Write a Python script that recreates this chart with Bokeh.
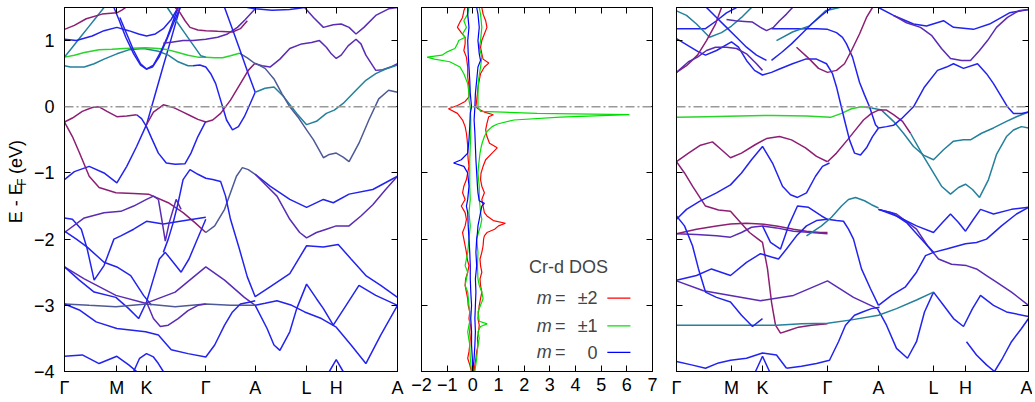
import math
from bokeh.plotting import figure
from bokeh.layouts import row
from bokeh.models import Range1d, FixedTicker, LinearAxis, Span, Label
from bokeh.core.properties import value
from bokeh.embed import file_html
from bokeh.resources import INLINE

# ---------------- axes data ----------------
E_MIN, E_MAX = -4.0, 1.5
energy_ticks = [-4, -3, -2, -1, 0, 1]
kpath_labels = ["Γ", "M", "K", "Γ", "A", "L", "H", "A"]
left_kpos = [0, 53, 83, 143, 193, 245, 275, 337]
right_kpos = [0, 55, 86, 151, 202, 257, 289, 352]
dos_ticks = [-2, -1, 0, 1, 2, 3, 4, 5, 6, 7]
ylabel_parts = ["E - E", "F", "(eV)"]

# colours of the orbital projections
BL = "#2323f0"   # m = 0 dominated
PU = "#8c1f74"   # m = +-2 / mixed
VI = "#5a2bb4"
TE = "#24809c"
SL = "#4d5a96"
GR = "#2ad52a"   # m = +-1

# ---------------- left band structure (k, E) ----------------
L01 = [(0,-0.23),(8,-0.17),(18,-0.07),(28,-0.01),(35,0.0),(43,-0.07),(53,-0.15),(63,-0.14),(73,-0.12)]
L02 = [(73,-0.12),(78,-0.18),(83,-0.3),(88,-0.47),(95,-0.7),(103,-0.85),(112,-0.87),(122,-0.86),(128,-0.7),(135,-0.45),(143,-0.22)]
L03 = [(0,-1.1),(10,-0.98),(25,-0.9),(40,-1.0),(53,-1.15),(63,-0.9),(73,-0.6),(83,-0.27),(92,0.2),(100,0.62),(108,1.03),(117,1.5)]
L04 = [(83,-0.27),(90,-0.08),(100,0.03),(110,-0.01),(120,-0.08),(128,-0.14),(135,-0.19),(143,-0.23)]
L05 = [(143,-0.23),(150,-0.2),(158,-0.1),(168,0.1),(178,0.35),(186,0.55),(193,0.66)]
L06 = [(130,0.62),(137,0.63),(143,0.6),(148,0.5),(153,0.35),(157,0.15),(160,0.0),(164,-0.2),(170,-0.35),(176,-0.3),(182,-0.15),(188,0.05),(193,0.22)]
L07 = [(0,0.62),(6,0.6),(12,0.6),(20,0.6),(30,0.65),(40,0.72),(53,0.8),(65,0.86),(80,0.88),(95,0.84),(105,0.78),(115,0.68),(125,0.62),(130,0.62)]
L08 = [(0,0.75),(10,0.78),(20,0.82),(35,0.86),(48,0.87),(60,0.88),(82,0.89),(95,0.88),(105,0.86),(115,0.82),(125,0.78),(135,0.75),(143,0.75),(152,0.74),(160,0.74),(168,0.77),(177,0.81)]
L09 = [(177,0.81),(185,0.74),(193,0.65)]
L10 = [(0,0.75),(8,0.9),(16,1.05),(24,1.2),(32,1.35),(40,1.5)]
L11 = [(104,1.5),(113,1.3),(120,1.15),(128,0.98),(138,0.77),(143,0.75)]
L12 = [(50,1.5),(55,1.32),(62,1.05),(70,0.8),(77,0.63),(83,0.57),(90,0.63),(97,0.82),(104,1.05),(110,1.3),(115,1.5)]
L13 = [(56,1.35),(63,1.1),(70,0.85),(77,0.65),(83,0.57),(89,0.6),(96,0.76),(103,1.0),(110,1.25),(117,1.5)]
L14 = [(0,1.02),(12,1.0),(28,1.07),(40,1.15),(53,1.2),(65,1.15),(75,1.1),(83,1.07),(92,1.1),(100,1.18),(108,1.32),(115,1.5)]
L15 = [(100,0.96),(110,0.98),(120,1.0),(130,1.0),(143,1.02),(155,1.05),(165,1.1),(175,1.2),(183,1.32),(193,1.48)]
L16 = [(112,1.5),(117,1.42),(122,1.3),(127,1.2),(135,1.16),(143,1.15),(155,1.14),(170,1.13),(178,1.18),(185,1.3)]
L17 = [(0,1.17),(10,1.23),(22,1.33),(38,1.4),(53,1.42),(58,1.46),(62,1.5)]
L18 = [(185,1.5),(193,1.48),(210,1.46),(228,1.47),(243,1.5)]
L19 = [(243,1.5),(252,1.35),(262,1.2),(272,1.24),(280,1.25),(288,1.2),(295,1.1),(303,1.2),(315,1.38),(328,1.48),(337,1.5)]
L20 = [(193,0.65),(200,0.62),(208,0.6),(218,0.72),(228,0.88),(240,0.95),(250,0.97),(258,1.0),(265,0.9),(270,0.8),(275,0.73),(280,0.78),(287,0.92),(295,1.02),(300,0.95),(305,0.78),(315,0.55),(322,0.56),(330,0.6),(337,0.65)]
L21 = [(162,1.5),(170,1.17),(178,0.84),(186,0.5),(193,0.22)]
L22 = [(193,0.22),(203,0.28),(212,0.3),(222,0.15),(235,-0.1),(245,-0.27),(255,-0.22),(265,-0.1),(273,-0.05),(282,0.05),(295,0.25),(305,0.4),(315,0.5),(325,0.57),(337,0.63)]
L23 = [(193,0.66),(203,0.58),(212,0.42),(220,0.2),(228,0.0),(236,-0.15),(245,-0.35),(252,-0.5),(262,-0.77),(268,-0.72),(275,-0.7),(282,-0.76),(288,-0.83),(298,-0.55),(308,-0.2),(318,0.12),(328,0.25),(337,0.22)]
L24 = [(0,-0.23),(8,-0.45),(15,-0.69),(25,-1.05),(35,-1.22),(52,-1.3),(70,-1.31),(85,-1.32),(105,-1.45),(120,-1.6),(132,-1.75),(143,-1.9)]
L25 = [(143,-1.9),(152,-1.8),(162,-1.55),(168,-1.3),(174,-1.05),(180,-0.92),(186,-0.95),(193,-1.02)]
L26 = [(100,-2.2),(105,-2.0),(110,-1.75),(115,-1.45),(120,-1.1),(127,-0.95),(135,-1.02),(143,-1.08),(150,-1.1),(158,-1.13),(163,-1.35),(168,-1.7),(173,-1.95),(177,-2.15),(185,-2.57),(193,-2.87),(208,-2.72),(228,-2.52),(245,-2.1),(262,-2.12),(277,-2.08),(290,-2.3),(305,-2.55),(320,-2.7),(337,-2.88)]
L27 = [(193,-1.02),(208,-1.2),(228,-1.4),(245,-1.52),(262,-1.4),(272,-1.45),(288,-1.32),(312,-1.25),(337,-1.05)]
L28 = [(193,-1.02),(205,-1.2),(215,-1.35),(228,-1.7),(238,-1.9),(245,-1.98),(255,-1.9),(265,-1.85),(275,-1.8),(288,-1.8),(300,-1.65),(312,-1.48),(325,-1.25),(337,-1.05)]
L29 = [(0,-1.68),(8,-1.7),(17,-1.85),(23,-2.15),(30,-2.62),(40,-2.4),(50,-2.0),(57,-1.95),(70,-1.85),(83,-1.73),(100,-1.77),(117,-1.73),(130,-1.7),(143,-1.67)]
L30 = [(0,-1.9),(20,-1.68),(40,-1.6),(57,-1.58),(70,-1.5),(83,-1.4),(90,-1.35),(95,-1.4)]
L31 = [(0,-1.88),(12,-2.0),(23,-2.12),(40,-2.35),(53,-2.42),(67,-2.55),(80,-2.85),(88,-3.0)]
L32 = [(0,-2.42),(20,-2.6),(52,-2.85),(82,-2.97),(112,-2.8),(143,-2.42),(162,-2.62),(182,-2.88),(193,-3.0)]
L33 = [(0,-2.42),(15,-2.62),(30,-2.8),(52,-2.88),(65,-3.05),(75,-3.2),(83,-2.95),(90,-2.6),(96,-2.3),(102,-2.2),(110,-2.35),(118,-2.5),(126,-2.3),(133,-2.05),(143,-1.7)]
L34 = [(0,-2.98),(25,-3.0),(52,-3.02),(83,-2.98),(112,-3.02),(143,-2.98),(168,-3.0),(193,-3.0)]
L35 = [(193,-3.0),(205,-3.35),(212,-3.6),(218,-3.68),(228,-3.4),(235,-3.05),(245,-2.68),(255,-2.9),(262,-3.05),(272,-3.3),(285,-3.0),(298,-2.7),(315,-2.85),(337,-3.0)]
L36 = [(193,-3.0),(203,-2.97),(215,-2.93),(230,-3.0),(243,-3.1),(260,-3.2),(275,-3.33),(290,-3.6),(305,-3.88),(320,-3.45),(337,-3.0)]
L37 = [(0,-2.98),(15,-3.07),(32,-3.25),(53,-3.35),(82,-3.4),(95,-3.45),(108,-3.67),(125,-3.73),(143,-3.78),(152,-3.6),(162,-3.3),(170,-3.1),(178,-2.98),(188,-2.95),(193,-2.93)]
L38 = [(83,-2.95),(90,-3.2),(97,-3.32),(105,-3.3),(115,-3.2),(125,-3.08),(135,-3.0),(143,-2.98)]
L39 = [(0,-3.77),(18,-3.75),(35,-3.88),(53,-3.77),(65,-3.9),(73,-4.0)]
L40 = [(70,-4.0),(76,-3.8),(83,-3.73),(90,-3.78),(95,-3.88),(100,-4.0)]
L41 = [(95,-1.4),(99,-1.75),(102,-2.03),(106,-1.75),(113,-1.4),(118,-1.55)]
L42 = [(268,-4.0),(275,-3.82),(282,-4.0)]

left_bands = [
    (L01, PU), (L02, BL), (L03, BL), (L04, PU), (L05, PU), (L06, BL), (L07, TE),
    (L08, GR), (L09, SL), (L10, TE), (L11, TE), (L12, BL), (L13, BL), (L14, BL),
    (L15, VI), (L16, PU), (L17, PU), (L18, BL), (L19, VI), (L20, VI), (L21, BL),
    (L22, TE), (L23, SL), (L24, PU), (L25, SL), (L26, BL), (L27, BL), (L28, VI),
    (L29, BL), (L30, VI), (L31, BL), (L32, VI), (L33, BL), (L34, SL), (L35, BL),
    (L36, BL), (L37, BL), (L38, VI), (L39, BL), (L40, BL), (L41, VI), (L42, BL),
]

# ---------------- right band structure (k, E) ----------------
R01 = [(0,-0.16),(30,-0.15),(63,-0.14),(96,-0.13),(130,-0.14),(154,-0.16),(165,-0.1),(175,-0.03),(185,0.0),(195,-0.02)]
R02 = [(195,-0.02),(205,-0.05),(217,-0.22),(227,-0.4),(237,-0.6),(247,-0.73),(257,-0.8),(267,-0.65),(277,-0.52),(287,-0.5),(294,-0.5),(305,-0.4),(317,-0.32),(330,-0.22),(340,-0.15),(352,-0.08)]
R03 = [(151,-0.83),(160,-0.7),(171,-0.5),(180,-0.33),(187,-0.2),(195,-0.1),(202,-0.05),(210,-0.05),(217,-0.12),(226,-0.22),(234,-0.4)]
R04 = [(234,-0.4),(247,-0.75),(257,-1.0),(265,-1.2),(274,-1.32),(282,-1.22),(289,-1.17),(296,-1.25),(303,-1.37),(312,-1.1),(320,-0.72),(330,-0.45),(337,-0.35),(345,-0.3),(352,-0.32)]
R05 = [(0,-0.83),(12,-0.7),(24,-0.58),(36,-0.53),(45,-0.65),(54,-0.77),(65,-0.7),(79,-0.57),(90,-0.48),(103,-0.45),(115,-0.5),(129,-0.62),(140,-0.75),(151,-0.83)]
R06 = [(0,-0.83),(8,-1.0),(16,-1.2),(29,-1.5),(42,-1.56),(54,-1.58),(64,-1.75),(73,-1.9),(80,-1.98),(86,-2.05),(91,-2.45),(95,-2.95),(99,-3.3),(104,-3.42),(112,-3.38),(122,-3.33),(135,-3.3),(151,-3.28)]
R07 = [(0,1.03),(12,0.92),(22,0.83),(29,0.78),(40,0.85),(55,0.98),(62,0.9),(70,0.7),(78,0.55),(86,0.48),(95,0.52),(103,0.57),(116,0.65),(129,0.72),(140,0.72),(150,0.65),(156,0.5),(160,0.3),(164,0.05),(168,-0.2),(173,-0.5),(178,-0.7),(184,-0.73),(190,-0.62),(196,-0.45),(202,-0.32)]
R08 = [(95,1.18),(110,1.18),(125,1.18),(140,1.18),(151,1.17),(160,1.12),(166,1.05),(170,0.95),(176,0.75),(183,0.37),(188,0.18),(193,0.0),(199,-0.27),(202,-0.32)]
R09 = [(0,1.18),(15,1.18),(29,1.18),(40,1.3),(50,1.42),(60,1.5)]
R10 = [(0,1.45),(10,1.38),(20,1.25),(33,1.05),(45,1.12),(55,1.22),(65,1.35),(75,1.5)]
R11 = [(100,1.0),(116,1.13),(125,1.18),(133,1.22),(142,1.35),(149,1.45),(163,1.5)]
R12 = [(202,-0.32),(210,-0.3),(217,-0.28),(225,-0.18),(237,0.0),(248,0.3),(261,0.55),(270,0.6),(277,0.65),(287,0.58),(301,0.65),(310,0.5),(317,0.35),(325,0.15),(331,0.0),(337,-0.1),(345,-0.1),(352,-0.08)]
R13 = [(202,1.5),(217,1.38),(237,1.25),(250,1.22),(267,1.3),(277,1.2),(297,1.17),(313,1.25),(333,1.42),(352,1.47)]
R14 = [(217,1.38),(230,1.27),(244,1.2),(255,1.08),(265,0.88),(274,0.73),(285,0.7),(294,0.7),(303,0.85),(311,1.0),(320,1.2),(331,1.35),(342,1.45),(352,1.47)]
R15 = [(0,0.52),(10,0.62),(21,0.78),(30,1.0),(39,1.25),(45,1.5)]
R16 = [(0,0.52),(12,0.68),(21,0.75),(30,0.85),(39,0.9),(50,0.9),(60,0.88),(70,0.8),(80,0.65),(86,0.55)]
R17 = [(120,0.9),(133,0.72),(142,0.58),(151,0.52),(160,0.55),(168,0.65),(175,0.85),(183,1.1),(190,1.35),(196,1.5)]
R18 = [(50,1.32),(59,1.3),(68,1.29),(76,1.28),(84,1.2),(90,1.15),(97,1.2),(103,1.3),(110,1.4),(116,1.5)]
R19 = [(30,1.5),(40,1.35),(50,1.2),(60,1.05),(70,0.9),(80,0.78),(90,0.7)]
R20 = [(95,0.7),(105,0.82),(115,0.95),(125,1.1),(135,1.25),(145,1.38),(155,1.5)]
R21 = [(0,-1.7),(10,-1.55),(23,-1.43),(40,-1.3),(54,-1.18),(65,-1.0),(75,-0.8),(86,-0.6),(96,-0.85),(106,-1.2),(114,-1.33),(121,-1.37),(130,-1.3),(139,-1.05),(146,-0.9),(153,-0.85)]
R22 = [(0,-1.92),(20,-1.85),(40,-1.8),(54,-1.77),(70,-1.76),(84,-1.77),(100,-1.8),(117,-1.85),(130,-1.88),(144,-1.9),(151,-1.9)]
R23 = [(0,-1.92),(20,-1.93),(40,-1.95),(54,-1.97),(65,-1.9),(75,-1.82),(86,-1.8),(100,-1.83),(117,-1.88),(135,-1.9),(151,-1.92)]
R24 = [(86,-1.8),(94,-2.05),(104,-2.15),(112,-1.8),(121,-1.5),(132,-1.52),(145,-1.65),(151,-1.7),(160,-1.72),(167,-1.73),(172,-1.85),(177,-2.0),(185,-2.45),(194,-2.75),(202,-3.0)]
R25 = [(0,-2.62),(20,-2.55),(35,-2.45),(54,-2.55),(70,-2.35),(84,-2.22),(95,-2.27),(102,-2.3),(110,-2.15),(120,-1.95),(130,-1.8),(140,-1.72),(151,-1.7)]
R26 = [(0,-2.63),(27,-2.78),(54,-2.85),(84,-2.93),(117,-2.85),(151,-2.63),(177,-2.88),(201,-3.05)]
R27 = [(201,-3.05),(210,-3.3),(220,-3.65),(231,-3.8),(240,-3.55),(248,-3.1),(257,-2.8),(267,-3.0),(277,-3.2),(287,-3.32),(296,-3.05),(304,-2.85),(317,-3.0),(330,-3.1),(352,-3.17)]
R28 = [(0,-3.3),(25,-3.3),(50,-3.3),(75,-3.3),(100,-3.3),(125,-3.28),(151,-3.27),(175,-3.22),(202,-3.15),(220,-3.05),(240,-2.92),(257,-2.8)]
R29 = [(202,-1.55),(220,-1.62),(240,-1.85),(251,-2.1),(262,-2.3),(275,-2.38),(290,-2.4),(300,-2.45),(310,-2.55),(320,-2.65),(335,-2.8),(352,-3.0)]
R30 = [(202,-1.55),(220,-1.65),(240,-1.8),(257,-1.9),(266,-1.75),(274,-1.62),(282,-1.75),(289,-1.88),(297,-1.7),(304,-1.55),(317,-1.62),(335,-1.55),(352,-1.52)]
R31 = [(202,-1.55),(215,-1.6),(230,-1.75),(245,-2.0),(257,-2.2),(270,-2.15),(289,-2.07),(300,-2.05),(310,-2.0),(325,-1.8),(340,-1.62),(352,-1.52)]
R32 = [(130,-1.95),(145,-1.8),(155,-1.67),(165,-1.5),(172,-1.4),(179,-1.37),(188,-1.42),(195,-1.48),(202,-1.53)]
R33 = [(290,-3.55),(300,-3.75),(310,-3.9),(318,-4.0)]
R34 = [(318,-4.0),(326,-3.8),(335,-3.55),(345,-3.35),(352,-3.2)]
R35 = [(0,-3.85),(15,-3.9),(29,-3.95),(42,-3.87),(54,-3.83),(70,-3.8),(86,-3.72),(100,-3.75),(110,-3.95)]
R36 = [(79,-4.0),(86,-3.77),(93,-4.0)]
R37 = [(110,-3.95),(125,-3.92),(140,-3.88),(153,-3.83),(162,-3.55),(169,-3.3),(178,-3.15),(186,-3.1),(195,-3.05),(203,-3.03)]
R38 = [(0,-1.65),(8,-1.8),(16,-2.1),(22,-2.45),(29,-2.8),(40,-2.88),(54,-2.95),(65,-3.15),(76,-3.32),(86,-3.2)]
R39 = [(202,-3.0),(215,-2.85),(229,-2.72),(240,-2.5),(249,-2.25),(257,-2.2)]

right_bands = [
    (R01, GR), (R02, TE), (R03, PU), (R04, TE), (R05, PU), (R06, PU), (R07, BL),
    (R08, BL), (R09, BL), (R10, TE), (R11, TE), (R12, BL), (R13, BL), (R14, VI),
    (R15, PU), (R16, VI), (R17, PU), (R18, VI), (R19, BL), (R20, BL), (R21, BL),
    (R22, PU), (R23, VI), (R24, BL), (R25, BL), (R26, VI), (R27, BL), (R28, TE),
    (R29, VI), (R30, BL), (R31, BL), (R32, TE), (R33, BL), (R34, BL), (R35, BL),
    (R36, BL), (R37, BL), (R38, BL), (R39, BL),
]

# ---------------- Cr-d projected DOS (E, DOS) ----------------
dos_m2_up = [(-4.0,0.05),(-3.9,0.08),(-3.8,0.12),(-3.7,0.15),(-3.6,0.2),(-3.5,0.18),(-3.4,0.22),(-3.3,0.25),(-3.2,0.2),(-3.1,0.22),(-3.0,0.25),(-2.9,0.3),(-2.8,0.35),(-2.7,0.3),(-2.6,0.28),(-2.5,0.35),(-2.4,0.3),(-2.3,0.28),(-2.2,0.35),(-2.1,0.4),(-2.0,0.42),(-1.95,0.45),(-1.9,0.55),(-1.85,0.85),(-1.8,1.0),(-1.76,1.27),(-1.72,0.8),(-1.65,0.55),(-1.6,0.45),(-1.5,0.4),(-1.4,0.35),(-1.3,0.45),(-1.2,0.35),(-1.1,0.3),(-1.0,0.32),(-0.9,0.4),(-0.8,0.5),(-0.7,0.75),(-0.62,0.95),(-0.55,0.65),(-0.45,0.55),(-0.35,0.5),(-0.25,0.55),(-0.15,0.62),(-0.12,0.8),(-0.08,0.45),(-0.03,0.2),(0.0,0.12),(0.1,0.15),(0.2,0.18),(0.3,0.2),(0.4,0.25),(0.5,0.3),(0.6,0.45),(0.66,0.62),(0.72,0.4),(0.8,0.35),(0.9,0.3),(1.0,0.35),(1.1,0.45),(1.2,0.55),(1.3,0.5),(1.4,0.4),(1.5,0.35)]
dos_m2_dn = [(-4.0,-0.05),(-3.9,-0.12),(-3.8,-0.2),(-3.7,-0.15),(-3.6,-0.12),(-3.5,-0.1),(-3.4,-0.12),(-3.3,-0.1),(-3.2,-0.15),(-3.1,-0.12),(-3.0,-0.18),(-2.9,-0.2),(-2.8,-0.25),(-2.7,-0.3),(-2.6,-0.28),(-2.5,-0.2),(-2.4,-0.15),(-2.3,-0.22),(-2.2,-0.25),(-2.1,-0.3),(-2.0,-0.35),(-1.9,-0.4),(-1.8,-0.3),(-1.7,-0.25),(-1.6,-0.3),(-1.5,-0.45),(-1.4,-0.3),(-1.3,-0.4),(-1.2,-0.35),(-1.1,-0.25),(-1.0,-0.2),(-0.9,-0.15),(-0.8,-0.18),(-0.7,-0.2),(-0.6,-0.2),(-0.5,-0.22),(-0.4,-0.25),(-0.3,-0.3),(-0.2,-0.4),(-0.1,-0.6),(-0.03,-0.95),(0.02,-0.6),(0.08,-0.3),(0.15,-0.15),(0.3,-0.15),(0.45,-0.2),(0.6,-0.2),(0.75,-0.25),(0.85,-0.35),(0.95,-0.3),(1.05,-0.3),(1.12,-0.45),(1.2,-0.6),(1.28,-0.5),(1.35,-0.4),(1.45,-0.35),(1.5,-0.3)]
dos_m1_up = [(-4.0,0.08),(-3.8,0.15),(-3.6,0.2),(-3.5,0.25),(-3.4,0.2),(-3.32,0.3),(-3.28,0.56),(-3.24,0.25),(-3.1,0.2),(-3.0,0.3),(-2.9,0.4),(-2.8,0.35),(-2.7,0.25),(-2.6,0.2),(-2.4,0.18),(-2.2,0.2),(-2.0,0.15),(-1.9,0.22),(-1.8,0.3),(-1.7,0.35),(-1.6,0.3),(-1.5,0.28),(-1.4,0.25),(-1.2,0.25),(-1.0,0.2),(-0.9,0.22),(-0.8,0.25),(-0.7,0.28),(-0.6,0.33),(-0.54,0.37),(-0.45,0.45),(-0.37,0.56),(-0.3,0.75),(-0.26,0.96),(-0.2,1.6),(-0.155,3.4),(-0.12,6.1),(-0.1,2.5),(-0.07,0.3),(0.0,0.2),(0.2,0.2),(0.4,0.22),(0.6,0.3),(0.75,0.35),(0.9,0.25),(1.0,0.3),(1.2,0.35),(1.4,0.3),(1.5,0.25)]
dos_m1_dn = [(-4.0,-0.05),(-3.8,-0.1),(-3.6,-0.12),(-3.4,-0.2),(-3.3,-0.15),(-3.2,-0.1),(-3.0,-0.15),(-2.8,-0.2),(-2.7,-0.3),(-2.6,-0.25),(-2.5,-0.2),(-2.4,-0.3),(-2.3,-0.25),(-2.2,-0.2),(-2.0,-0.15),(-1.8,-0.1),(-1.6,-0.15),(-1.4,-0.1),(-1.2,-0.12),(-1.0,-0.12),(-0.8,-0.12),(-0.6,-0.1),(-0.4,-0.08),(-0.2,-0.08),(0.0,-0.1),(0.1,-0.15),(0.2,-0.15),(0.35,-0.2),(0.5,-0.35),(0.6,-0.5),(0.68,-0.9),(0.72,-1.5),(0.75,-1.78),(0.78,-1.2),(0.83,-1.0),(0.88,-0.7),(0.95,-0.6),(1.0,-0.55),(1.05,-0.3),(1.1,-0.4),(1.2,-0.25),(1.3,-0.35),(1.4,-0.2),(1.5,-0.15)]
dos_m0_up = [(-4.0,0.0),(-3.8,0.05),(-3.6,0.08),(-3.4,0.1),(-3.2,0.08),(-3.0,0.1),(-2.8,0.12),(-2.6,0.1),(-2.4,0.15),(-2.2,0.12),(-2.0,0.15),(-1.9,0.18),(-1.8,0.2),(-1.7,0.25),(-1.6,0.3),(-1.5,0.35),(-1.46,0.45),(-1.42,0.25),(-1.3,0.2),(-1.2,0.18),(-1.0,0.15),(-0.8,0.12),(-0.6,0.1),(-0.4,0.08),(-0.2,0.05),(0.0,0.08),(0.2,0.1),(0.4,0.15),(0.6,0.2),(0.7,0.3),(0.8,0.25),(1.0,0.2),(1.2,0.25),(1.4,0.2),(1.5,0.15)]
dos_m0_dn = [(-4.0,0.0),(-3.8,-0.02),(-3.6,-0.05),(-3.4,-0.05),(-3.2,-0.08),(-3.0,-0.05),(-2.8,-0.08),(-2.6,-0.1),(-2.4,-0.1),(-2.2,-0.12),(-2.0,-0.15),(-1.8,-0.18),(-1.6,-0.2),(-1.5,-0.25),(-1.4,-0.2),(-1.2,-0.15),(-1.0,-0.2),(-0.9,-0.35),(-0.85,-0.75),(-0.8,-0.45),(-0.7,-0.2),(-0.5,-0.15),(-0.3,-0.12),(-0.1,-0.1),(0.0,-0.05),(0.2,-0.1),(0.4,-0.12),(0.6,-0.15),(0.8,-0.18),(1.0,-0.2),(1.2,-0.15),(1.4,-0.2),(1.5,-0.2)]

legend_title = "Cr-d DOS"
legend_values = ["±2", "±1", "0"]
legend_colors = ["#ff0000", "#00e000", "#0000ff"]
legend_rows_E = [-2.89, -3.31, -3.71]

FONT = "Liberation Sans"
FS = "18px"
H = 400
BORDER_TOP = 7
BORDER_BOTTOM = 28


def style(p, ticks, labels=None, show_y=True):
    p.grid.visible = False
    p.outline_line_color = "black"
    p.background_fill_color = "white"
    p.border_fill_color = "white"
    p.xaxis.ticker = FixedTicker(ticks=ticks)
    if labels is not None:
        p.xaxis.major_label_overrides = {t: l for t, l in zip(ticks, labels)}
    p.yaxis.ticker = FixedTicker(ticks=energy_ticks)
    for ax in (p.xaxis[0], p.yaxis[0]):
        ax.major_tick_in = 6
        ax.major_tick_out = 0
        ax.minor_tick_line_color = None
        ax.axis_line_color = "black"
        ax.major_tick_line_color = "black"
        ax.major_label_text_font = FONT
        ax.major_label_text_font_size = FS
        ax.major_label_text_color = "black"
    p.xaxis.major_label_standoff = 6
    p.yaxis.major_label_standoff = 10
    if not show_y:
        p.yaxis.major_label_overrides = {t: "" for t in energy_ticks}
        p.yaxis.major_label_text_font_size = "1px"
        p.yaxis.major_label_standoff = 0
    # mirrored ticks on top and right
    top = LinearAxis(ticker=FixedTicker(ticks=ticks), major_tick_in=6, major_tick_out=0,
                     minor_tick_line_color=None, axis_line_color="black",
                     major_label_standoff=0, major_label_text_font_size="1px",
                     major_label_overrides={t: "" for t in ticks})
    right = LinearAxis(ticker=FixedTicker(ticks=energy_ticks), major_tick_in=6, major_tick_out=0,
                       minor_tick_line_color=None, axis_line_color="black",
                       major_label_standoff=0, major_label_text_font_size="1px",
                       major_label_overrides={t: "" for t in energy_ticks})
    p.add_layout(top, "above")
    p.add_layout(right, "right")
    p.add_layout(Span(location=0, dimension="width", line_color="#999999",
                      line_dash="9 3 2 3", line_width=1.5))


def draw_bands(p, bands):
    for pts, col in bands:
        ks = [a for a, b in pts]
        es = [b for a, b in pts]
        p.line(ks, es, line_color=col, line_width=1.5)


# ---------------- y-axis title strip ----------------
W0 = 30
p0 = figure(width=W0, height=H, x_range=Range1d(0, W0), y_range=Range1d(0, H),
            output_backend="svg", toolbar_location=None, x_axis_type=None, y_axis_type=None,
            min_border=0, outline_line_color=None)
p0.grid.visible = False
# anchor positions in px of the strip (y measured from the bottom of the strip)
p0.text(x=[15, 21, 15], y=[H - 237, H - 196, H - 183], text=ylabel_parts,
        angle=math.pi / 2, text_align="left", text_baseline="middle",
        text_font=value(FONT), text_font_size=["18px", "12px", "18px"], text_color="black")

# ---------------- left panel ----------------
p1 = figure(width=30 + 337 + 10, height=H, x_range=Range1d(left_kpos[0], left_kpos[-1]),
            y_range=Range1d(E_MIN, E_MAX), output_backend="svg", toolbar_location=None,
            min_border_left=30, min_border_right=10, min_border_top=BORDER_TOP,
            min_border_bottom=BORDER_BOTTOM)
style(p1, left_kpos, kpath_labels, show_y=True)
draw_bands(p1, left_bands)

# ---------------- middle panel (DOS) ----------------
p2 = figure(width=14 + 231 + 12, height=H, x_range=Range1d(dos_ticks[0], dos_ticks[-1]),
            y_range=Range1d(E_MIN, E_MAX), output_backend="svg", toolbar_location=None,
            min_border_left=14, min_border_right=12, min_border_top=BORDER_TOP,
            min_border_bottom=BORDER_BOTTOM)
style(p2, dos_ticks, None, show_y=False)
for series, col in ((dos_m2_up, legend_colors[0]), (dos_m2_dn, legend_colors[0]),
                    (dos_m1_up, legend_colors[1]), (dos_m1_dn, legend_colors[1]),
                    (dos_m0_up, legend_colors[2]), (dos_m0_dn, legend_colors[2])):
    es = [a for a, b in series]
    ds = [b for a, b in series]
    p2.line(ds, es, line_color=col, line_width=1.2)

p2.add_layout(Label(x=3.73, y=-2.42, text=legend_title, text_align="center",
                    text_baseline="middle", text_font=FONT, text_font_size=FS))
for val, col, ey in zip(legend_values, legend_colors, legend_rows_E):
    p2.add_layout(Label(x=3.07, y=ey, text="m", text_align="right", text_baseline="middle",
                        text_font=FONT, text_font_size=FS, text_font_style="italic"))
    p2.add_layout(Label(x=3.2, y=ey, text="=", text_align="left", text_baseline="middle",
                        text_font=FONT, text_font_size=FS))
    p2.add_layout(Label(x=4.86, y=ey, text=val, text_align="right", text_baseline="middle",
                        text_font=FONT, text_font_size=FS))
    p2.line([5.24, 6.14], [ey, ey], line_color=col, line_width=1.2)

# ---------------- right panel ----------------
p3 = figure(width=12 + 352 + 4, height=H, x_range=Range1d(right_kpos[0], right_kpos[-1]),
            y_range=Range1d(E_MIN, E_MAX), output_backend="svg", toolbar_location=None,
            min_border_left=12, min_border_right=4, min_border_top=BORDER_TOP,
            min_border_bottom=BORDER_BOTTOM)
style(p3, right_kpos, kpath_labels, show_y=False)
draw_bands(p3, right_bands)

layout = row(p0, p1, p2, p3)
open("out.html", "w").write(file_html(layout, INLINE))
